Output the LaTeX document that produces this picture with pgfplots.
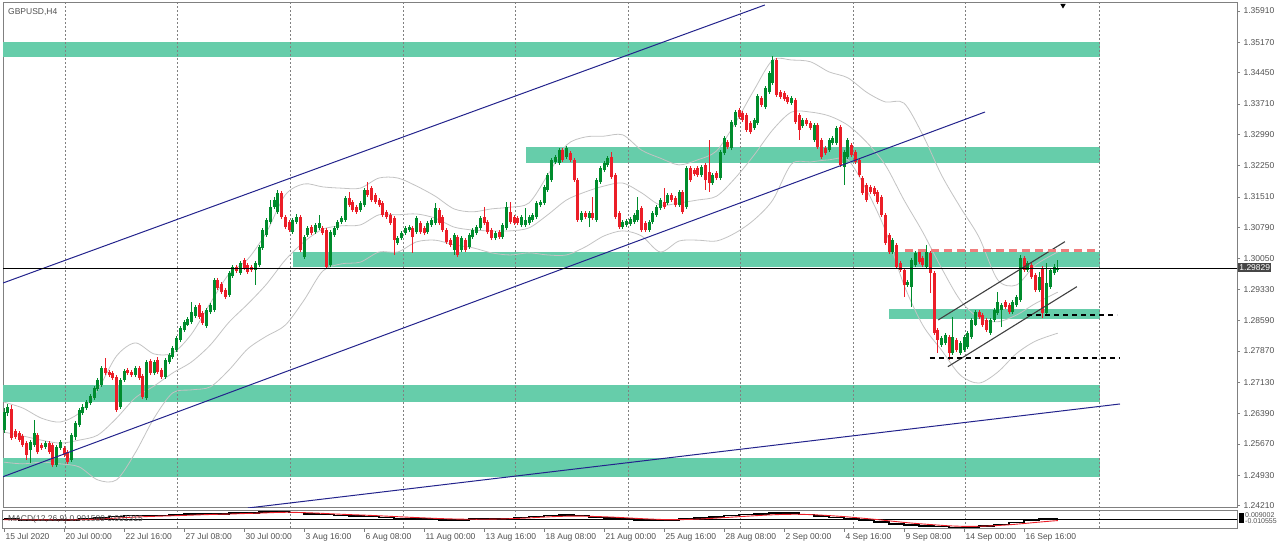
\documentclass[border=0pt]{standalone}
\usepackage{fontspec}
\setmainfont{Liberation Sans}
\usepackage{pgfplots}
\pgfplotsset{compat=1.18}
\usepackage{pgfplotstable}

\definecolor{zone}{RGB}{102,205,170}
\definecolor{bull}{RGB}{0,140,45}
\definecolor{bear}{RGB}{235,30,40}
\definecolor{trend}{RGB}{35,35,140}
\definecolor{band}{RGB}{195,195,195}
\definecolor{lbl}{RGB}{80,80,80}
\definecolor{frame}{RGB}{128,128,128}
\definecolor{pink}{RGB}{240,125,125}
\definecolor{pricebox}{RGB}{70,70,70}

% GBPUSD H4 candles, bar 0 = 15 Jul 08:00
\pgfplotstableread{
i o h l c
0 1.2600 1.2652 1.2593 1.2643
1 1.2640 1.2662 1.2633 1.2654
2 1.2650 1.2659 1.2576 1.2581
3 1.2598 1.2602 1.2579 1.2584
4 1.2593 1.2598 1.2572 1.2576
5 1.2586 1.2591 1.2560 1.2565
6 1.2569 1.2574 1.2529 1.2541
7 1.2553 1.2576 1.2522 1.2572
8 1.2565 1.2624 1.2560 1.2593
9 1.2588 1.2593 1.2543 1.2548
10 1.2565 1.2569 1.2553 1.2557
11 1.2560 1.2574 1.2555 1.2569
12 1.2569 1.2574 1.2543 1.2548
13 1.2565 1.2569 1.2513 1.2517
14 1.2517 1.2565 1.2513 1.2560
15 1.2557 1.2576 1.2553 1.2572
16 1.2557 1.2562 1.2536 1.2541
17 1.2548 1.2553 1.2520 1.2524
18 1.2529 1.2593 1.2524 1.2588
19 1.2584 1.2621 1.2576 1.2617
20 1.2612 1.2652 1.2607 1.2647
21 1.2640 1.2662 1.2636 1.2654
22 1.2652 1.2671 1.2647 1.2666
23 1.2664 1.2685 1.2659 1.2681
24 1.2676 1.2704 1.2671 1.2699
25 1.2697 1.2723 1.2692 1.2718
26 1.2707 1.2751 1.2702 1.2747
27 1.2747 1.2770 1.2730 1.2735
28 1.2737 1.2742 1.2725 1.2730
29 1.2735 1.2740 1.2718 1.2723
30 1.2725 1.2730 1.2643 1.2647
31 1.2654 1.2723 1.2650 1.2718
32 1.2718 1.2744 1.2714 1.2740
33 1.2742 1.2747 1.2730 1.2735
34 1.2737 1.2742 1.2725 1.2730
35 1.2730 1.2751 1.2725 1.2747
36 1.2747 1.2751 1.2718 1.2723
37 1.2728 1.2733 1.2673 1.2678
38 1.2676 1.2766 1.2671 1.2761
39 1.2763 1.2768 1.2730 1.2735
40 1.2735 1.2766 1.2730 1.2761
41 1.2766 1.2773 1.2733 1.2737
42 1.2742 1.2747 1.2721 1.2725
43 1.2725 1.2770 1.2721 1.2766
44 1.2761 1.2782 1.2756 1.2778
45 1.2773 1.2799 1.2768 1.2794
46 1.2789 1.2822 1.2785 1.2818
47 1.2813 1.2846 1.2808 1.2841
48 1.2837 1.2860 1.2832 1.2855
49 1.2848 1.2867 1.2846 1.2863
50 1.2855 1.2903 1.2851 1.2879
51 1.2870 1.2896 1.2865 1.2891
52 1.2896 1.2900 1.2863 1.2867
53 1.2877 1.2882 1.2848 1.2853
54 1.2846 1.2889 1.2841 1.2884
55 1.2879 1.2900 1.2874 1.2896
56 1.2884 1.2960 1.2879 1.2955
57 1.2955 1.2960 1.2931 1.2936
58 1.2945 1.2950 1.2922 1.2926
59 1.2931 1.2936 1.2910 1.2915
60 1.2919 1.2976 1.2915 1.2971
61 1.2964 1.2990 1.2960 1.2986
62 1.2986 1.2990 1.2971 1.2976
63 1.2971 1.3000 1.2967 1.2995
64 1.3002 1.3007 1.2978 1.2983
65 1.2990 1.2995 1.2969 1.2974
66 1.2986 1.2990 1.2974 1.2978
67 1.2978 1.3000 1.2943 1.2995
68 1.2990 1.3038 1.2986 1.3033
69 1.3031 1.3078 1.3026 1.3073
70 1.3061 1.3101 1.3057 1.3097
71 1.3092 1.3144 1.3087 1.3127
72 1.3127 1.3151 1.3123 1.3144
73 1.3116 1.3168 1.3111 1.3161
74 1.3161 1.3165 1.3099 1.3104
75 1.3104 1.3109 1.3075 1.3080
76 1.3092 1.3097 1.3068 1.3073
77 1.3068 1.3101 1.3064 1.3097
78 1.3092 1.3111 1.3087 1.3104
79 1.3104 1.3109 1.3021 1.3026
80 1.3009 1.3061 1.3004 1.3057
81 1.3061 1.3083 1.3057 1.3078
82 1.3080 1.3085 1.3061 1.3066
83 1.3068 1.3090 1.3064 1.3085
84 1.3078 1.3109 1.3073 1.3090
85 1.3078 1.3083 1.3061 1.3066
86 1.3073 1.3078 1.2983 1.2986
87 1.2990 1.3073 1.2986 1.3068
88 1.3061 1.3083 1.3057 1.3078
89 1.3078 1.3097 1.3073 1.3092
90 1.3092 1.3106 1.3087 1.3101
91 1.3097 1.3153 1.3092 1.3149
92 1.3149 1.3163 1.3127 1.3132
93 1.3139 1.3144 1.3116 1.3120
94 1.3127 1.3132 1.3111 1.3116
95 1.3120 1.3142 1.3116 1.3137
96 1.3132 1.3172 1.3127 1.3168
97 1.3168 1.3187 1.3151 1.3156
98 1.3172 1.3177 1.3139 1.3144
99 1.3156 1.3161 1.3135 1.3139
100 1.3144 1.3149 1.3127 1.3132
101 1.3137 1.3142 1.3104 1.3109
102 1.3116 1.3120 1.3099 1.3104
103 1.3109 1.3113 1.3085 1.3090
104 1.3101 1.3106 1.3014 1.3049
105 1.3042 1.3059 1.3038 1.3054
106 1.3054 1.3071 1.3049 1.3066
107 1.3066 1.3083 1.3061 1.3078
108 1.3073 1.3085 1.3068 1.3080
109 1.3078 1.3083 1.3019 1.3057
110 1.3068 1.3106 1.3064 1.3101
111 1.3090 1.3094 1.3064 1.3068
112 1.3078 1.3083 1.3061 1.3066
113 1.3068 1.3094 1.3064 1.3090
114 1.3085 1.3101 1.3080 1.3097
115 1.3090 1.3137 1.3085 1.3125
116 1.3120 1.3125 1.3085 1.3090
117 1.3104 1.3109 1.3068 1.3073
118 1.3073 1.3078 1.3040 1.3045
119 1.3049 1.3054 1.3033 1.3038
120 1.3026 1.3066 1.3014 1.3061
121 1.3057 1.3061 1.3009 1.3014
122 1.3026 1.3059 1.3021 1.3054
123 1.3049 1.3054 1.3021 1.3026
124 1.3033 1.3066 1.3028 1.3061
125 1.3057 1.3078 1.3052 1.3073
126 1.3066 1.3085 1.3061 1.3080
127 1.3078 1.3106 1.3073 1.3101
128 1.3104 1.3127 1.3085 1.3090
129 1.3092 1.3097 1.3064 1.3068
130 1.3073 1.3078 1.3049 1.3054
131 1.3054 1.3071 1.3049 1.3066
132 1.3068 1.3073 1.3052 1.3057
133 1.3057 1.3090 1.3052 1.3085
134 1.3078 1.3139 1.3073 1.3127
135 1.3116 1.3139 1.3087 1.3092
136 1.3104 1.3109 1.3085 1.3090
137 1.3101 1.3106 1.3085 1.3090
138 1.3085 1.3109 1.3080 1.3104
139 1.3085 1.3125 1.3080 1.3097
140 1.3090 1.3109 1.3085 1.3104
141 1.3097 1.3113 1.3092 1.3109
142 1.3104 1.3142 1.3099 1.3137
143 1.3132 1.3144 1.3127 1.3139
144 1.3137 1.3180 1.3132 1.3175
145 1.3168 1.3208 1.3163 1.3203
146 1.3191 1.3243 1.3187 1.3239
147 1.3234 1.3250 1.3229 1.3246
148 1.3232 1.3267 1.3227 1.3262
149 1.3262 1.3267 1.3234 1.3239
150 1.3246 1.3272 1.3241 1.3267
151 1.3255 1.3260 1.3234 1.3239
152 1.3239 1.3243 1.3187 1.3191
153 1.3191 1.3196 1.3092 1.3097
154 1.3097 1.3118 1.3092 1.3113
155 1.3113 1.3118 1.3099 1.3104
156 1.3101 1.3118 1.3080 1.3113
157 1.3113 1.3151 1.3097 1.3101
158 1.3097 1.3196 1.3092 1.3191
159 1.3187 1.3224 1.3182 1.3220
160 1.3215 1.3236 1.3210 1.3232
161 1.3227 1.3248 1.3222 1.3243
162 1.3246 1.3258 1.3194 1.3198
163 1.3203 1.3208 1.3099 1.3104
164 1.3113 1.3118 1.3075 1.3080
165 1.3080 1.3097 1.3075 1.3092
166 1.3085 1.3099 1.3080 1.3094
167 1.3087 1.3104 1.3083 1.3099
168 1.3092 1.3113 1.3087 1.3109
169 1.3097 1.3151 1.3092 1.3120
170 1.3125 1.3130 1.3068 1.3073
171 1.3090 1.3094 1.3068 1.3073
172 1.3073 1.3097 1.3068 1.3092
173 1.3092 1.3118 1.3087 1.3113
174 1.3109 1.3132 1.3104 1.3127
175 1.3125 1.3149 1.3120 1.3144
176 1.3139 1.3172 1.3123 1.3127
177 1.3137 1.3161 1.3132 1.3156
178 1.3156 1.3161 1.3139 1.3144
179 1.3149 1.3153 1.3127 1.3132
180 1.3132 1.3168 1.3127 1.3163
181 1.3163 1.3168 1.3111 1.3116
182 1.3127 1.3224 1.3123 1.3220
183 1.3220 1.3224 1.3187 1.3191
184 1.3215 1.3220 1.3201 1.3206
185 1.3220 1.3224 1.3198 1.3203
186 1.3203 1.3227 1.3198 1.3222
187 1.3227 1.3232 1.3168 1.3191
188 1.3210 1.3286 1.3163 1.3184
189 1.3184 1.3208 1.3180 1.3203
190 1.3208 1.3213 1.3191 1.3196
191 1.3196 1.3262 1.3191 1.3258
192 1.3255 1.3295 1.3250 1.3291
193 1.3281 1.3286 1.3265 1.3269
194 1.3267 1.3333 1.3262 1.3329
195 1.3321 1.3357 1.3317 1.3352
196 1.3357 1.3362 1.3336 1.3340
197 1.3350 1.3355 1.3329 1.3333
198 1.3345 1.3350 1.3305 1.3310
199 1.3326 1.3331 1.3300 1.3305
200 1.3314 1.3338 1.3310 1.3333
201 1.3326 1.3395 1.3321 1.3390
202 1.3385 1.3390 1.3364 1.3369
203 1.3364 1.3414 1.3359 1.3409
204 1.3399 1.3449 1.3395 1.3444
205 1.3421 1.3485 1.3416 1.3475
206 1.3475 1.3480 1.3388 1.3392
207 1.3399 1.3404 1.3383 1.3388
208 1.3397 1.3402 1.3378 1.3383
209 1.3388 1.3392 1.3371 1.3376
210 1.3373 1.3390 1.3369 1.3385
211 1.3381 1.3385 1.3324 1.3329
212 1.3345 1.3350 1.3286 1.3310
213 1.3319 1.3338 1.3314 1.3333
214 1.3333 1.3338 1.3319 1.3324
215 1.3326 1.3331 1.3310 1.3314
216 1.3286 1.3326 1.3281 1.3321
217 1.3321 1.3326 1.3265 1.3269
218 1.3286 1.3291 1.3241 1.3246
219 1.3267 1.3272 1.3250 1.3255
220 1.3262 1.3291 1.3258 1.3286
221 1.3279 1.3295 1.3274 1.3291
222 1.3279 1.3319 1.3274 1.3314
223 1.3317 1.3321 1.3222 1.3227
224 1.3222 1.3262 1.3180 1.3258
225 1.3246 1.3291 1.3241 1.3286
226 1.3274 1.3279 1.3246 1.3250
227 1.3258 1.3262 1.3229 1.3234
228 1.3239 1.3243 1.3198 1.3203
229 1.3196 1.3201 1.3156 1.3161
230 1.3180 1.3184 1.3139 1.3144
231 1.3175 1.3180 1.3158 1.3163
232 1.3172 1.3177 1.3153 1.3158
233 1.3163 1.3168 1.3135 1.3139
234 1.3151 1.3156 1.3104 1.3109
235 1.3109 1.3113 1.3038 1.3042
236 1.3061 1.3066 1.3016 1.3021
237 1.3021 1.3054 1.3016 1.3049
238 1.3038 1.3042 1.2981 1.2986
239 1.2995 1.3000 1.2974 1.2978
240 1.2978 1.2983 1.2915 1.2943
241 1.2943 1.2955 1.2938 1.2950
242 1.2938 1.3007 1.2891 1.3002
243 1.2990 1.3023 1.2986 1.3019
244 1.3021 1.3026 1.2993 1.2997
245 1.3007 1.3012 1.2986 1.2990
246 1.2986 1.3038 1.2981 1.3021
247 1.3019 1.3023 1.2924 1.2971
248 1.2971 1.2976 1.2825 1.2829
249 1.2837 1.2841 1.2782 1.2813
250 1.2801 1.2822 1.2796 1.2818
251 1.2806 1.2829 1.2801 1.2825
252 1.2820 1.2825 1.2766 1.2782
253 1.2782 1.2867 1.2778 1.2820
254 1.2813 1.2818 1.2785 1.2789
255 1.2782 1.2811 1.2778 1.2806
256 1.2789 1.2825 1.2785 1.2820
257 1.2796 1.2834 1.2792 1.2829
258 1.2820 1.2865 1.2815 1.2860
259 1.2848 1.2884 1.2846 1.2879
260 1.2879 1.2884 1.2863 1.2867
261 1.2872 1.2877 1.2844 1.2848
262 1.2860 1.2865 1.2832 1.2837
263 1.2829 1.2865 1.2825 1.2860
264 1.2860 1.2889 1.2855 1.2884
265 1.2877 1.2926 1.2872 1.2903
266 1.2884 1.2900 1.2844 1.2896
267 1.2903 1.2907 1.2886 1.2891
268 1.2896 1.2900 1.2874 1.2879
269 1.2879 1.2907 1.2874 1.2903
270 1.2896 1.2919 1.2891 1.2915
271 1.2907 1.3014 1.2903 1.3007
272 1.3007 1.3012 1.2974 1.2978
273 1.2978 1.3000 1.2974 1.2995
274 1.2990 1.2995 1.2957 1.2962
275 1.2967 1.2971 1.2926 1.2931
276 1.2931 1.2974 1.2926 1.2962
277 1.2983 1.2988 1.2865 1.2877
278 1.2877 1.2995 1.2872 1.2948
279 1.2938 1.2983 1.2934 1.2978
280 1.2971 1.2993 1.2967 1.2986
281 1.2978 1.3002 1.2974 1.2983
}\candles

% Bollinger bands (20,2)
\pgfplotstableread{
i up mid lo
0 1.2666 1.2595 1.2524
5 1.2652 1.2586 1.2520
10 1.2628 1.2576 1.2524
15 1.2619 1.2569 1.2520
20 1.2640 1.2576 1.2513
25 1.2695 1.2588 1.2482
30 1.2775 1.2628 1.2482
35 1.2806 1.2676 1.2546
40 1.2780 1.2704 1.2628
45 1.2782 1.2735 1.2688
50 1.2827 1.2761 1.2695
55 1.2900 1.2801 1.2702
60 1.2969 1.2855 1.2742
65 1.3004 1.2898 1.2792
70 1.3068 1.2945 1.2822
75 1.3156 1.3002 1.2848
80 1.3182 1.3045 1.2907
85 1.3175 1.3075 1.2976
90 1.3172 1.3083 1.2993
95 1.3172 1.3085 1.2997
100 1.3196 1.3109 1.3021
105 1.3196 1.3109 1.3021
110 1.3177 1.3111 1.3045
115 1.3153 1.3101 1.3049
120 1.3123 1.3080 1.3038
125 1.3116 1.3073 1.3031
130 1.3123 1.3071 1.3019
135 1.3127 1.3071 1.3014
140 1.3137 1.3078 1.3019
145 1.3203 1.3109 1.3014
150 1.3274 1.3144 1.3014
155 1.3293 1.3163 1.3033
160 1.3295 1.3177 1.3059
165 1.3298 1.3184 1.3071
170 1.3262 1.3161 1.3059
175 1.3243 1.3132 1.3021
180 1.3227 1.3137 1.3047
185 1.3239 1.3144 1.3049
190 1.3260 1.3153 1.3047
195 1.3326 1.3196 1.3066
200 1.3404 1.3250 1.3097
205 1.3475 1.3310 1.3144
210 1.3475 1.3352 1.3229
215 1.3471 1.3352 1.3234
220 1.3447 1.3343 1.3239
225 1.3433 1.3321 1.3239
230 1.3399 1.3281 1.3168
235 1.3376 1.3227 1.3073
240 1.3373 1.3144 1.2943
245 1.3298 1.3068 1.2848
250 1.3203 1.2983 1.2789
255 1.3127 1.2907 1.2730
260 1.3056 1.2865 1.2711
265 1.2955 1.2856 1.2737
270 1.2943 1.2872 1.2781
275 1.2990 1.2899 1.2810
281 1.3021 1.2926 1.2829
}\bands

% MACD(12,26,9)
\pgfplotstableread{
i macd sig
0 0.0000 -0.0005
4 -0.0005 -0.0005
8 -0.0010 -0.0006
12 -0.0010 -0.0007
16 -0.0010 -0.0008
20 0.0000 -0.0005
24 0.0015 0.0000
28 0.0030 0.0008
32 0.0040 0.0018
36 0.0040 0.0026
40 0.0040 0.0032
44 0.0045 0.0037
48 0.0055 0.0042
52 0.0060 0.0048
56 0.0060 0.0053
60 0.0065 0.0057
64 0.0070 0.0062
68 0.0080 0.0067
72 0.0085 0.0073
76 0.0075 0.0076
80 0.0060 0.0072
84 0.0050 0.0066
88 0.0040 0.0058
92 0.0035 0.0051
96 0.0030 0.0045
100 0.0020 0.0038
104 0.0010 0.0030
108 0.0005 0.0022
112 0.0000 0.0015
116 -0.0005 0.0008
120 -0.0005 0.0003
124 0.0000 0.0000
128 0.0005 0.0000
132 0.0010 0.0003
136 0.0020 0.0008
140 0.0030 0.0015
144 0.0040 0.0024
148 0.0045 0.0031
152 0.0040 0.0035
156 0.0020 0.0032
160 0.0015 0.0027
164 0.0005 0.0020
168 -0.0010 0.0011
172 -0.0015 0.0003
176 -0.0010 -0.0003
180 0.0000 -0.0004
184 0.0015 0.0000
188 0.0025 0.0008
192 0.0040 0.0018
196 0.0050 0.0028
200 0.0060 0.0038
204 0.0065 0.0047
208 0.0065 0.0053
212 0.0050 0.0054
216 0.0035 0.0049
220 0.0020 0.0040
224 0.0005 0.0029
228 -0.0015 0.0015
232 -0.0030 0.0000
236 -0.0050 -0.0017
240 -0.0065 -0.0034
244 -0.0070 -0.0048
248 -0.0080 -0.0060
252 -0.0090 -0.0071
256 -0.0085 -0.0077
260 -0.0070 -0.0076
264 -0.0055 -0.0070
268 -0.0035 -0.0060
272 -0.0015 -0.0046
276 0.0000 -0.0031
280 0.0010 -0.0017
281 0.0010 -0.0015
}\macd

\tikzset{
  gridline/.style={draw=frame, line width=0.7pt, dash pattern=on 2pt off 2pt},
  lblfont/.style={font=\fontsize{8.5}{10}\selectfont, text=lbl},
}

\begin{document}
\begin{tikzpicture}
\path[use as bounding box] (0,0) rectangle (1280pt,551pt);

% main price window
\begin{axis}[
  at={(3pt,43pt)}, anchor=south west,
  width=1234pt, height=505pt, scale only axis,
  xmin=-0.267, xmax=328.8, ymin=1.24156, ymax=1.36099,
  axis line style={draw=frame, line width=1pt},
  xtick=\empty,
  ytick={1.2421,1.2493,1.2567,1.2639,1.2713,1.2787,1.2859,1.2933,1.3005,1.3079,1.3151,1.3225,1.3299,1.3371,1.3445,1.3517,1.3591},
  yticklabels={1.24210,1.24930,1.25670,1.26390,1.27130,1.27870,1.28590,1.29330,1.30050,1.30790,1.31510,1.32250,1.32990,1.33710,1.34450,1.35170,1.35910},
  ytick pos=right, yticklabel pos=right,
  tick align=outside, major tick length=3pt,
  tick style={draw=frame, line width=0.8pt},
  yticklabel style={lblfont, anchor=west},
]
% support / resistance zones
\addplot[fill=zone, draw=none] coordinates {(-1,1.34815) (292.3,1.34815) (292.3,1.35184) (-1,1.35184)};
\addplot[fill=zone, draw=none] coordinates {(139.2,1.32323) (292.3,1.32323) (292.3,1.32701) (139.2,1.32701)};
\addplot[fill=zone, draw=none] coordinates {(77.1,1.29862) (292.3,1.29862) (292.3,1.30217) (77.1,1.30217)};
\addplot[fill=zone, draw=none] coordinates {(236,1.28626) (292.3,1.28626) (292.3,1.28862) (236,1.28862)};
\addplot[fill=zone, draw=none] coordinates {(-1,1.26670) (292.3,1.26670) (292.3,1.27065) (-1,1.27065)};
\addplot[fill=zone, draw=none] coordinates {(-1,1.24896) (292.3,1.24896) (292.3,1.25331) (-1,1.25331)};

% vertical grid
\pgfplotsinvokeforeach{16.27,46.13,76.27,106.4,136.27,166.4,196.27,226.4,256.27,292}{
  \addplot[gridline] coordinates {(#1,1.2) (#1,1.4)};
}

% Bollinger bands
\addplot[band, line width=0.8pt, smooth, tension=0.5] table[x=i, y=up] {\bands};
\addplot[band, line width=0.8pt, smooth, tension=0.5] table[x=i, y=mid] {\bands};
\addplot[band, line width=0.8pt, smooth, tension=0.5] table[x=i, y=lo] {\bands};

% candles: wicks then bodies
\addplot[draw=none, mark=none,
  restrict expr to domain={\thisrow{c}-\thisrow{o}}{0:1},
  error bars/.cd, y dir=plus, y explicit, error mark=none,
  error bar style={draw=bull, solid, line width=1pt}]
  table[x=i, y=l, y error expr=\thisrow{h}-\thisrow{l}] {\candles};
\addplot[draw=none, mark=none,
  restrict expr to domain={\thisrow{c}-\thisrow{o}}{-1:0},
  error bars/.cd, y dir=plus, y explicit, error mark=none,
  error bar style={draw=bear, solid, line width=1pt}]
  table[x=i, y=l, y error expr=\thisrow{h}-\thisrow{l}] {\candles};
\addplot[draw=none, mark=none,
  restrict expr to domain={\thisrow{c}-\thisrow{o}}{0:1},
  error bars/.cd, y dir=plus, y explicit, error mark=none,
  error bar style={draw=bull, solid, line width=3pt}]
  table[x=i, y=o, y error expr=\thisrow{c}-\thisrow{o}] {\candles};
\addplot[draw=none, mark=none,
  restrict expr to domain={\thisrow{c}-\thisrow{o}}{-1:0},
  error bars/.cd, y dir=plus, y explicit, error mark=none,
  error bar style={draw=bear, solid, line width=3pt}]
  table[x=i, y=c, y error expr=\thisrow{o}-\thisrow{c}] {\candles};

% trend lines
\addplot[trend, line width=1pt] coordinates {(-0.267,1.29477) (202.9,1.36052)};
\addplot[trend, line width=1pt] coordinates {(-0.267,1.24896) (261.6,1.33521)};
\addplot[trend, line width=1pt] coordinates {(65.07,1.24156) (297.6,1.26616)};
% rising channel
\addplot[black!75, line width=1.1pt] coordinates {(249.1,1.28602) (282.9,1.30454)};
\addplot[black!75, line width=1.1pt] coordinates {(251.7,1.27498) (286.1,1.29390)};
% levels
\addplot[pink, line width=3pt, dash pattern=on 8pt off 5pt] coordinates {(240.3,1.30234) (292,1.30234)};
\addplot[black, line width=2pt, dash pattern=on 5pt off 4pt] coordinates {(272.8,1.28720) (296.8,1.28720)};
\addplot[black, line width=2pt, dash pattern=on 5pt off 4pt] coordinates {(246.9,1.27696) (297.6,1.27696)};
% bid line
\addplot[black, line width=0.9pt] coordinates {(-1,1.29829) (330,1.29829)};
% chart shift marker
\addplot[only marks, mark=triangle*, mark size=2.6pt, mark options={rotate=180, fill=black, draw=black}] coordinates {(282.4,1.36040)};
\end{axis}

% MACD window
\begin{axis}[
  at={(3pt,22pt)}, anchor=south west,
  width=1234pt, height=18pt, scale only axis,
  xmin=-0.267, xmax=328.8, ymin=-0.010555, ymax=0.009002,
  axis line style={draw=frame, line width=1pt},
  ytick=\empty,
  xtick={0,16,...,272},
  xticklabels={15 Jul 2020,20 Jul 00:00,22 Jul 16:00,27 Jul 08:00,30 Jul 00:00,3 Aug 16:00,6 Aug 08:00,11 Aug 00:00,13 Aug 16:00,18 Aug 08:00,21 Aug 00:00,25 Aug 16:00,28 Aug 08:00,2 Sep 00:00,4 Sep 16:00,9 Sep 08:00,14 Sep 00:00,16 Sep 16:00},
  xtick pos=bottom, xticklabel pos=lower,
  tick align=outside, major tick length=3pt,
  tick style={draw=frame, line width=0.8pt},
  xticklabel style={lblfont, anchor=north west, xshift=-2pt, yshift=2pt},
]
\pgfplotsinvokeforeach{16.27,46.13,76.27,106.4,136.27,166.4,196.27,226.4,256.27,292}{
  \addplot[gridline] coordinates {(#1,-1) (#1,1)};
}
\addplot[black, line width=0.8pt] coordinates {(-1,0) (330,0)};
\addplot[black, line width=1.6pt, const plot] table[x=i, y=macd] {\macd};
\addplot[bear, line width=0.9pt, smooth] table[x=i, y=sig] {\macd};
\end{axis}

% texts
\node[lblfont, anchor=west, inner sep=0pt] at (8pt,538.5pt) {GBPUSD,H4};
\node[lblfont, anchor=west, inner sep=0pt] at (8pt,31.5pt) {MACD(12,26,9) 0.001589 0.001315};
\node[fill=pricebox, text=white, font=\fontsize{8.5}{10}\selectfont, inner sep=1.2pt, anchor=west] at (1238pt,283.5pt) {1.29829};
\fill[black] (1239pt,28pt) rectangle (1244pt,38pt);
\node[lblfont, font=\fontsize{7}{8}\selectfont, anchor=west, inner sep=0pt] at (1245pt,36pt) {0.009002};
\node[lblfont, font=\fontsize{7}{8}\selectfont, anchor=west, inner sep=0pt] at (1245pt,29.5pt) {-0.010555};
\end{tikzpicture}
\end{document}
